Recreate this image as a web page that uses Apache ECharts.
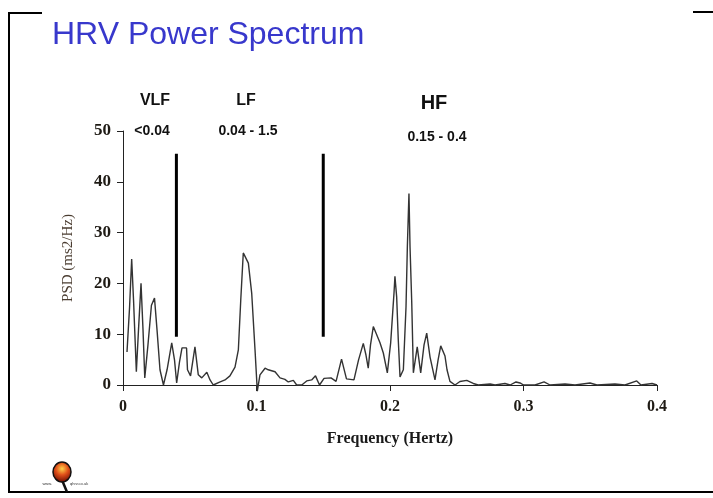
<!DOCTYPE html>
<html>
<head>
<meta charset="utf-8">
<script src="https://cdn.jsdelivr.net/npm/echarts@6/dist/echarts.min.js"></script>
<style>
html,body{margin:0;padding:0;background:#fff;}
#chart{width:713px;height:498px;}
</style>
</head>
<body>
<div id="chart"></div>
<script>
// ---- data ----
const titleText = "HRV Power Spectrum";
const xTicks = [0, 0.1, 0.2, 0.3, 0.4];
const yTicks = [0, 10, 20, 30, 40, 50];
const freq = [0.003,0.0049,0.0065,0.0079,0.0100,0.0116,0.0135,0.015,0.0163,0.0187,0.0213,0.0236,0.0255,0.0277,0.0303,0.033,0.0365,0.0386,0.0402,0.0423,0.0442,0.0476,0.0483,0.0506,0.0539,0.0564,0.059,0.0628,0.0652,0.0676,0.0719,0.0764,0.0801,0.0839,0.0864,0.0882,0.0901,0.0939,0.0964,0.0989,0.1006,0.1026,0.1064,0.1088,0.1139,0.1176,0.1213,0.1238,0.1276,0.1301,0.1339,0.1376,0.1413,0.1442,0.1472,0.1506,0.1558,0.1596,0.1637,0.1674,0.173,0.1764,0.18,0.182,0.1837,0.1854,0.1875,0.1925,0.195,0.198,0.2005,0.202,0.203,0.2037,0.205,0.2062,0.2075,0.21,0.212,0.213,0.2142,0.215,0.2163,0.2175,0.2204,0.223,0.2255,0.2275,0.23,0.2337,0.236,0.238,0.2412,0.2427,0.2449,0.2487,0.2524,0.2575,0.2624,0.2661,0.275,0.2787,0.2861,0.29,0.2944,0.2974,0.3,0.3086,0.3154,0.3199,0.3311,0.3386,0.3498,0.355,0.3685,0.376,0.3848,0.388,0.3963,0.4];
const psd = [6.5,15.2,24.8,16.7,2.6,10.8,20,10.8,1.4,7.9,15.7,17.1,10.8,3,0,3,8.3,4.9,0.4,4.5,7.3,7.3,3,1.8,7.5,2,1.4,2.5,1,0,0.5,1,1.8,3.5,6.9,16.7,26,24,18.1,6.9,-1.2,2,3.3,3,2.6,1.4,1.1,0.6,0.9,0,0,0.8,1,1.8,0,1.3,1.4,0.7,5.1,1.2,1,4.9,8.2,5.9,3.3,7.9,11.5,8.3,6.3,2.4,8.3,14.2,18.1,21.4,17.3,8.9,1.6,3,15.4,27.2,37.7,27.2,16.1,2.4,7.5,2.4,7.9,10.2,5.5,1,4.9,7.7,5.7,3,0.7,0,0.7,0.9,0.3,0,0.2,0,0.3,0,0.6,0.4,0,0,0.6,0,0.2,0,0.4,0,0.2,0,0.8,0,0.3,0];
const bandEdges = [0.04, 0.15];
const edgeRange = [9.5, 45.5];
const bandNames = ["VLF", "LF", "HF"];
const bandRanges = ["<0.04", "0.04 - 1.5", "0.15 - 0.4"];
const xName = "Frequency (Hertz)";
const yName = "PSD (ms2/Hz)";

const chart = echarts.init(document.getElementById('chart'), null, {renderer: 'canvas'});
const series = [{
  type: 'line',
  data: freq.map((f, i) => [f, psd[i]]),
  showSymbol: false,
  clip: false,
  lineStyle: {color: '#333', width: 1.4},
  silent: true,
  z: 3
}];
bandEdges.forEach(e => {
  series.push({
    type: 'line',
    data: [[e, edgeRange[0]], [e, edgeRange[1]]],
    showSymbol: false,
    lineStyle: {color: '#000', width: 3},
    silent: true,
    z: 4
  });
});

const bandLabelStyle = {fontFamily: "'Liberation Sans Narrow','Liberation Sans',Arial,sans-serif", fontWeight: 'bold', fill: '#111'};
const graphics = [
  {type: 'text', left: 52, top: 19, style: {text: titleText, font: "32px 'Liberation Sans', Arial, sans-serif", fill: '#3838cc'}},
  // frame
  {type: 'line', shape: {x1: 9, y1: 13, x2: 9, y2: 492}, style: {stroke: '#000', lineWidth: 2}},
  {type: 'line', shape: {x1: 8, y1: 13, x2: 42, y2: 13}, style: {stroke: '#000', lineWidth: 2}},
  {type: 'line', shape: {x1: 693, y1: 12, x2: 713, y2: 12}, style: {stroke: '#000', lineWidth: 2}},
  {type: 'line', shape: {x1: 8, y1: 492, x2: 713, y2: 492}, style: {stroke: '#000', lineWidth: 2}},
  // band labels
  {type: 'text', x: 155, y: 101, style: Object.assign({text: bandNames[0], fontSize: 16, align: 'center', verticalAlign: 'middle'}, bandLabelStyle)},
  {type: 'text', x: 246, y: 101, style: Object.assign({text: bandNames[1], fontSize: 16, align: 'center', verticalAlign: 'middle'}, bandLabelStyle)},
  {type: 'text', x: 434, y: 103, style: Object.assign({text: bandNames[2], fontSize: 20, align: 'center', verticalAlign: 'middle'}, bandLabelStyle)},
  {type: 'text', x: 152, y: 131, style: Object.assign({text: bandRanges[0], fontSize: 14, align: 'center', verticalAlign: 'middle'}, bandLabelStyle)},
  {type: 'text', x: 248, y: 131, style: Object.assign({text: bandRanges[1], fontSize: 14, align: 'center', verticalAlign: 'middle'}, bandLabelStyle)},
  {type: 'text', x: 437, y: 137, style: Object.assign({text: bandRanges[2], fontSize: 14, align: 'center', verticalAlign: 'middle'}, bandLabelStyle)},
  // logo
  {type: 'line', shape: {x1: 62, y1: 480, x2: 67, y2: 492}, style: {stroke: '#111', lineWidth: 2.5}},
  {type: 'ellipse', shape: {cx: 62, cy: 472, rx: 9, ry: 10}, style: {
    fill: {type: 'radial', x: 0.5, y: 0.35, r: 0.7, colorStops: [{offset: 0, color: '#ffd24a'}, {offset: 0.45, color: '#e0501a'}, {offset: 1, color: '#6a0a00'}]},
    stroke: '#111', lineWidth: 1.5}},
  {type: 'text', x: 52, y: 484, style: {text: 'www.', fontSize: 4, fill: '#333', align: 'right', verticalAlign: 'middle'}},
  {type: 'text', x: 70, y: 484, style: {text: 'qhrv.co.uk', fontSize: 4, fill: '#333', align: 'left', verticalAlign: 'middle'}}
];

chart.setOption({
  animation: false,
  backgroundColor: '#fff',
  grid: {left: 123, right: 56, top: 131, bottom: 113, containLabel: false},
  xAxis: {
    type: 'value', min: xTicks[0], max: xTicks[xTicks.length - 1], interval: 0.1,
    name: xName, nameLocation: 'middle', nameGap: 46,
    nameTextStyle: {fontFamily: "'Liberation Serif','Times New Roman',serif", fontWeight: 'bold', fontSize: 16, color: '#1a1a1a'},
    axisLine: {show: true, onZero: false, lineStyle: {color: '#222', width: 1}},
    axisTick: {show: true, inside: false, length: 6, lineStyle: {color: '#222'}},
    axisLabel: {margin: 14, fontFamily: "'Liberation Serif','Times New Roman',serif", fontWeight: 'bold', fontSize: 16, color: '#1e1a14',
      formatter: v => String(Math.round(v * 10) / 10)},
    splitLine: {show: false}
  },
  yAxis: {
    type: 'value', min: yTicks[0], max: yTicks[yTicks.length - 1], interval: 10,
    name: yName, nameLocation: 'middle', nameGap: 47, nameRotate: 90,
    nameTextStyle: {fontFamily: "'Liberation Serif','Times New Roman',serif", fontSize: 15, color: '#4a3c30'},
    axisLine: {show: true, lineStyle: {color: '#222', width: 1}},
    axisTick: {show: true, inside: false, length: 6, lineStyle: {color: '#222'}},
    axisLabel: {margin: 12, fontFamily: "'Liberation Serif','Times New Roman',serif", fontWeight: 'bold', fontSize: 17, color: '#1e1a14'},
    splitLine: {show: false}
  },
  series: series,
  graphic: graphics
});
</script>
</body>
</html>
